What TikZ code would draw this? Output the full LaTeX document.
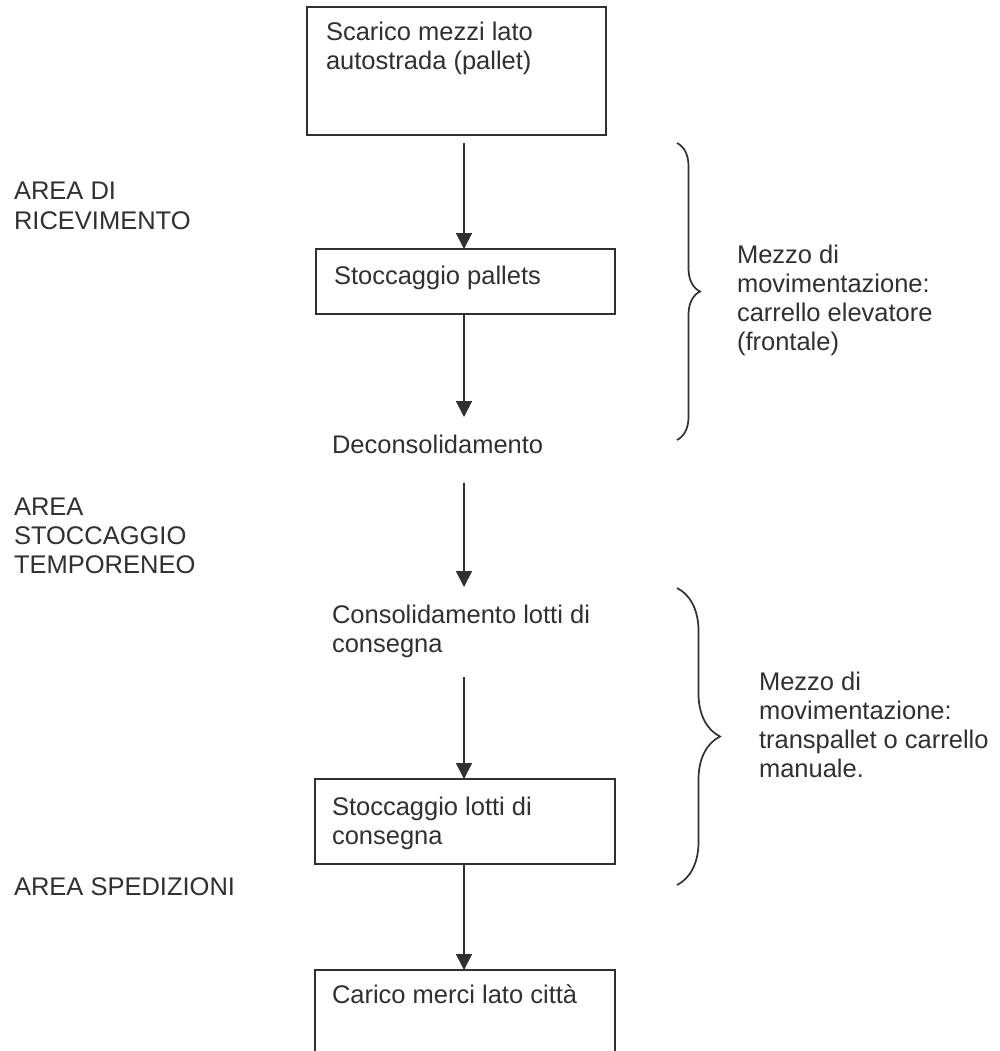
\documentclass[tikz,border=0pt]{standalone}
\usepackage{fontspec}
\setmainfont{Liberation Sans}
\usetikzlibrary{arrows.meta,decorations.pathreplacing,calc}
\definecolor{ink}{HTML}{303030}
\newcommand\htstrut{\rule{0pt}{18.5pt}}
\begin{document}
\begin{tikzpicture}[x=1pt,y=-1pt,
  stepbox/.style={draw=ink, line width=1.7pt, anchor=north west, inner sep=0pt, outer sep=0pt},
  txt/.style={anchor=north west, inner sep=0pt, outer sep=0pt, align=left, text=ink,
    font=\fontsize{25.5}{29}\selectfont},
  arr/.style={draw=ink, line width=1.7pt, -{Triangle[width=16pt,length=16pt]}},
  bracedeco/.style={draw=ink, line width=1.7pt, decorate, decoration={brace, amplitude=#1}}
]
\useasboundingbox (0,0) rectangle (999,1051);
\clip (0,0) rectangle (999,1051);
\fill[white] (0,0) rectangle (999,1051);

% step boxes
\node[stepbox, minimum width=299pt, minimum height=128pt] (b1) at (307,7) {};
\node[stepbox, minimum width=299pt, minimum height=65pt]  (b2) at (316,249) {};
\node[stepbox, minimum width=300pt, minimum height=85pt]  (b3) at (315,779) {};
\node[stepbox, minimum width=300pt, minimum height=130pt] (b4) at (315,970) {};

% step texts
\node[txt] (t1) at (326,22.5) {\htstrut Scarico mezzi lato\\autostrada (pallet)};
\node[txt] (t2) at (334,265.5) {\htstrut Stoccaggio pallets};
\node[txt] (dec) at (332,434.5) {\htstrut Deconsolidamento};
\node[txt] (cons) at (332,604.5) {\htstrut Consolidamento lotti di\\consegna};
\node[txt] (t3) at (332,796.5) {\htstrut Stoccaggio lotti di\\consegna};
\node[txt] (t4) at (332,984.5) {\htstrut Carico merci lato città};

% area labels
\node[txt] (a1) at (14,181.5) {\htstrut AREA DI\\RICEVIMENTO};
\node[txt] (a2) at (14,496.5) {\htstrut AREA\\STOCCAGGIO\\TEMPORENEO};
\node[txt] (a3) at (14,876.5) {\htstrut AREA SPEDIZIONI};

% handling means
\node[txt] (m1) at (737,244.5) {\htstrut Mezzo di\\movimentazione:\\carrello elevatore\\(frontale)};
\node[txt] (m2) at (759,671.5) {\htstrut Mezzo di\\movimentazione:\\transpallet o carrello\\manuale.};

% arrows
\coordinate (X) at (464,0);
\draw[arr] ($(b1.south -| X)+(0,8)$) -- (b2.north -| X);
\draw[arr] (b2.south -| X) -- ($(dec.north -| X)+(0,-17.5)$);
\draw[arr] ($(dec.south -| X)+(0,30)$) -- ($(cons.north -| X)+(0,-17.5)$);
\draw[arr] ($(cons.south -| X)+(0,20)$) -- (b3.north -| X);
\draw[arr] (b3.south -| X) -- (b4.north -| X);

% braces
\coordinate (br1t) at (677,143);
\coordinate (br1b) at (677,440);
\coordinate (br2t) at (677,588);
\coordinate (br2b) at (677,885);
\draw[bracedeco=23pt] (br1t) -- (br1b);
\draw[bracedeco=43pt] (br2t) -- (br2b);
\end{tikzpicture}
\end{document}
